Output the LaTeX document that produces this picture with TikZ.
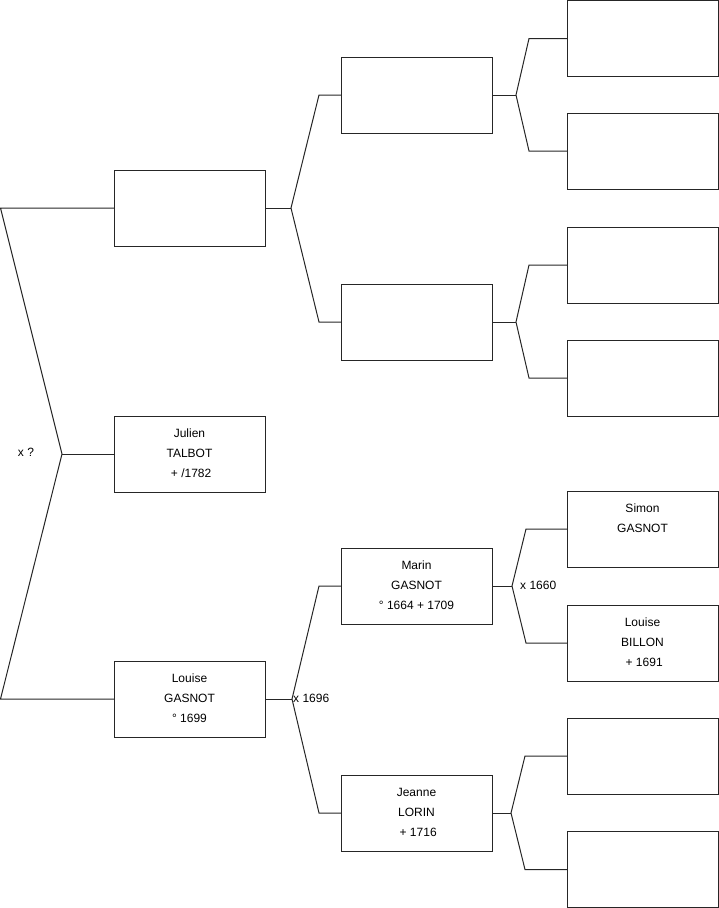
\documentclass[tikz,border=0pt]{standalone}
\usepackage{fontspec}
\setmainfont{Liberation Sans}
\begin{document}
\begin{tikzpicture}[x=1pt,y=-1pt,
  person/.style={draw=black!85, line width=1pt, fill=white, minimum width=151pt, minimum height=76pt,
    inner sep=0pt, outer sep=0pt, align=center, font=\fontsize{12}{20}\selectfont},
  link/.style={draw=black!85, line width=1pt},
  lbl/.style={font=\fontsize{12}{14}\selectfont, inner sep=0pt}]
\useasboundingbox (0,0) rectangle (719,908);
% generation 1
\node[person] (p1) at (189.5,208) {};
\node[person] (p2) at (189.5,454) {\raisebox{1pt}{Julien}\\\raisebox{1pt}{TALBOT}\\\raisebox{1pt}{ + /1782}};
\node[person] (p3) at (189.5,699) {\raisebox{1pt}{Louise}\\\raisebox{1pt}{GASNOT}\\\raisebox{1pt}{° 1699}};
% generation 2
\node[person] (q1) at (416.5,95) {};
\node[person] (q2) at (416.5,322) {};
\node[person] (q3) at (416.5,586) {\raisebox{1pt}{Marin}\\\raisebox{1pt}{GASNOT}\\\raisebox{1pt}{° 1664 + 1709}};
\node[person] (q4) at (416.5,813) {\raisebox{1pt}{Jeanne}\\\raisebox{1pt}{LORIN}\\\raisebox{1pt}{ + 1716}};
% generation 3
\node[person] (r1) at (642.5,38.5) {};
\node[person] (r2) at (642.5,151) {};
\node[person] (r3) at (642.5,265) {};
\node[person] (r4) at (642.5,378) {};
\node[person] (r5) at (642.5,529) {\raisebox{1pt}{Simon}\\\raisebox{1pt}{GASNOT}\\\mbox{}};
\node[person] (r6) at (642.5,643) {\raisebox{1pt}{Louise}\\\raisebox{1pt}{BILLON}\\\raisebox{1pt}{ + 1691}};
\node[person] (r7) at (642.5,756) {};
\node[person] (r8) at (642.5,869.5) {};
% fork coordinates
\coordinate (f0) at (62,454);
\coordinate (f0a) at (0.5,208);
\coordinate (f0b) at (0.5,699);
\coordinate (f1) at (291,208);
\coordinate (f1a) at (319,95);
\coordinate (f1b) at (319,322);
\coordinate (f2) at (292,699);
\coordinate (f2a) at (319,586);
\coordinate (f2b) at (319,813);
\coordinate (g1) at (516,95);
\coordinate (g1a) at (529,38.5);
\coordinate (g1b) at (529,151);
\coordinate (g2) at (516,322);
\coordinate (g2a) at (529,265);
\coordinate (g2b) at (529,378);
\coordinate (g3) at (512,586);
\coordinate (g3a) at (526,529);
\coordinate (g3b) at (526,643);
\coordinate (g4) at (511,813);
\coordinate (g4a) at (525,756);
\coordinate (g4b) at (525,869.5);
% connectors
\draw[link] (p2.west) -- (f0);
\draw[link] (p1.west) -- (f0a) -- (f0) -- (f0b) -- (p3.west);
\draw[link] (p1.east) -- (f1);
\draw[link] (q1.west) -- (f1a) -- (f1) -- (f1b) -- (q2.west);
\draw[link] (p3.east) -- (f2);
\draw[link] (q3.west) -- (f2a) -- (f2) -- (f2b) -- (q4.west);
\draw[link] (q1.east) -- (g1);
\draw[link] (r1.west) -- (g1a) -- (g1) -- (g1b) -- (r2.west);
\draw[link] (q2.east) -- (g2);
\draw[link] (r3.west) -- (g2a) -- (g2) -- (g2b) -- (r4.west);
\draw[link] (q3.east) -- (g3);
\draw[link] (r5.west) -- (g3a) -- (g3) -- (g3b) -- (r6.west);
\draw[link] (q4.east) -- (g4);
\draw[link] (r7.west) -- (g4a) -- (g4) -- (g4b) -- (r8.west);
% marriage labels
\node[lbl] (m0) at (26,452) {x ?};
\node[lbl, anchor=west] (m1) at (293,698) {x 1696};
\node[lbl, anchor=west] (m2) at (520,585) {x 1660};
\end{tikzpicture}
\end{document}
